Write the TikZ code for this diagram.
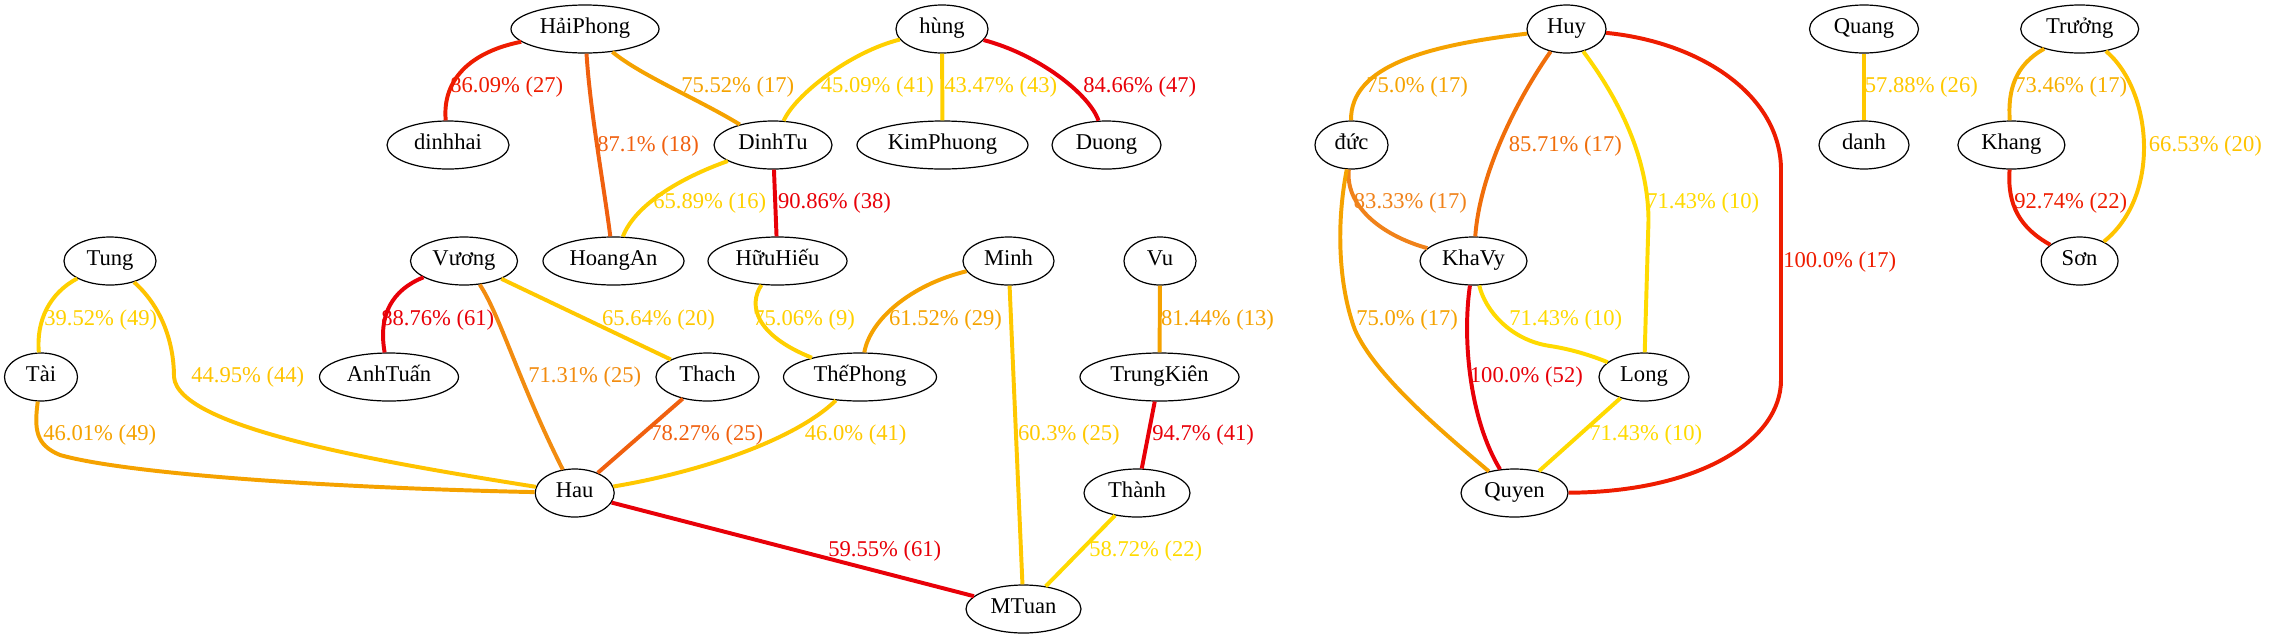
\documentclass[tikz,border=0pt]{standalone}
\usepackage{fontspec}
\setmainfont{Liberation Serif}
\usetikzlibrary{shapes.geometric}
\definecolor{cR}{HTML}{E80008}
\definecolor{cRo}{HTML}{EE1C00}
\definecolor{cOr}{HTML}{F0600F}
\definecolor{cOrB}{HTML}{F06E0A}
\definecolor{cOrC}{HTML}{F0821A}
\definecolor{cO}{HTML}{F28C10}
\definecolor{cG}{HTML}{F5A200}
\definecolor{cGB}{HTML}{F7B000}
\definecolor{cYA}{HTML}{FFC300}
\definecolor{cYB}{HTML}{FFC800}
\definecolor{cYC}{HTML}{FFD000}
\definecolor{cYD}{HTML}{FFDA00}
\tikzset{
  nd/.style={draw, ellipse, line width=0.75pt, inner sep=0pt,
    minimum height=48*0.62pt, minimum width=#1*0.62pt,
    text height=9.5pt, text depth=3.5pt,
    font=\fontsize{14pt}{16pt}\selectfont},
  ed/.style={line width=2.45pt, draw=#1},
  lb/.style={anchor=west, inner sep=0pt, text=#1,
    text height=9.5pt, text depth=3.5pt,
    font=\fontsize{14pt}{16pt}\selectfont}
}
\begin{document}
\begin{tikzpicture}[x=0.62pt, y=-0.62pt]
\useasboundingbox (0,0) rectangle (2271,639);
% rank 1
\node[nd=148] (HP) at (585,29) {HảiPhong};
\node[nd=92] (hung) at (942,29) {hùng};
\node[nd=79] (Huy) at (1566.5,29) {Huy};
\node[nd=109] (Quang) at (1864,29) {Quang};
\node[nd=118] (Truong) at (2079.7,29) {Trưởng};
% rank 2
\node[nd=122] (dinhhai) at (448,145) {dinhhai};
\node[nd=118] (DinhTu) at (773,145) {DinhTu};
\node[nd=171] (KimPhuong) at (942.5,145) {KimPhuong};
\node[nd=109] (Duong) at (1106.5,145) {Duong};
\node[nd=73] (duc) at (1351.5,145) {đức};
\node[nd=90] (danh) at (1864,145) {danh};
\node[nd=107] (Khang) at (2011.4,145) {Khang};
% rank 3
\node[nd=92] (Tung) at (110,261) {Tung};
\node[nd=107] (Vuong) at (464,261) {Vương};
\node[nd=141] (HoangAn) at (613.5,261) {HoangAn};
\node[nd=139] (HuuHieu) at (777.5,261) {HữuHiếu};
\node[nd=91] (Minh) at (1008.5,261) {Minh};
\node[nd=72] (Vu) at (1160,261) {Vu};
\node[nd=107] (KhaVy) at (1473.5,261) {KhaVy};
\node[nd=77] (Son) at (2079.6,261) {Sơn};
% rank 4
\node[nd=73] (Tai) at (41,377) {Tài};
\node[nd=139] (AnhTuan) at (389,377) {AnhTuấn};
\node[nd=103] (Thach) at (707.5,377) {Thach};
\node[nd=153] (ThePhong) at (860,377) {ThếPhong};
\node[nd=159] (TrungKien) at (1159.5,377) {TrungKiên};
\node[nd=90] (Long) at (1644,377) {Long};
% rank 5
\node[nd=79] (Hau) at (574.7,493) {Hau};
\node[nd=106] (Thanh) at (1137,493) {Thành};
\node[nd=107] (Quyen) at (1514.5,493) {Quyen};
% rank 6
\node[nd=115] (MTuan) at (1023.5,609) {MTuan};
% edges
\draw[ed=cRo] (HP) .. controls (470,52) and (442,80) .. (dinhhai);
\draw[ed=cOr] (HP) .. controls (590,110) and (603,180) .. (HoangAn);
\draw[ed=cG] (HP) .. controls (640,75) and (700,100) .. (DinhTu);
\draw[ed=cYC] (hung) .. controls (850,52) and (795,95) .. (DinhTu);
\draw[ed=cYC] (hung) -- (KimPhuong);
\draw[ed=cR] (hung) .. controls (1040,55) and (1090,95) .. (Duong);
\draw[ed=cYC] (DinhTu) .. controls (680,178) and (635,205) .. (HoangAn);
\draw[ed=cR] (DinhTu) -- (HuuHieu);
\draw[ed=cYC] (Tung) .. controls (50,293) and (36,320) .. (Tai);
\draw[ed=cYA] (Tung) .. controls (160,305) and (174,340) .. (174,377) .. controls (178,428) and (380,462) .. (Hau);
\draw[ed=cG] (Tai) .. controls (34,430) and (36,445) .. (60,455) .. controls (120,472) and (300,487) .. (Hau);
\draw[ed=cR] (Vuong) .. controls (392,290) and (378,315) .. (AnhTuan);
\draw[ed=cO] (Vuong) .. controls (500,315) and (520,385) .. (Hau);
\draw[ed=cYB] (Vuong) -- (Thach);
\draw[ed=cOr] (Thach) -- (Hau);
\draw[ed=cYC] (HuuHieu) .. controls (748,305) and (755,335) .. (ThePhong);
\draw[ed=cG] (Minh) .. controls (910,285) and (870,320) .. (ThePhong);
\draw[ed=cYB] (Minh) -- (MTuan);
\draw[ed=cYB] (ThePhong) .. controls (795,440) and (700,472) .. (Hau);
\draw[ed=cR] (Hau) -- (MTuan);
\draw[ed=cG] (Vu) -- (TrungKien);
\draw[ed=cR] (TrungKien) -- (Thanh);
\draw[ed=cYD] (Thanh) -- (MTuan);
\draw[ed=cG] (Huy) .. controls (1430,45) and (1350,65) .. (duc);
\draw[ed=cOrB] (Huy) .. controls (1520,95) and (1480,170) .. (KhaVy);
\draw[ed=cYD] (Huy) .. controls (1612,90) and (1648,150) .. (1648.5,220) -- (Long);
\draw[ed=cRo] (Huy) .. controls (1700,42) and (1781,95) .. (1781,170) -- (1781,380) .. controls (1781,440) and (1700,492) .. (Quyen);
\draw[ed=cOrC] (duc) .. controls (1345,205) and (1380,235) .. (KhaVy);
\draw[ed=cG] (duc) .. controls (1335,230) and (1340,290) .. (1355,330) .. controls (1375,375) and (1440,430) .. (Quyen);
\draw[ed=cR] (KhaVy) .. controls (1462,340) and (1470,420) .. (Quyen);
\draw[ed=cYD] (KhaVy) .. controls (1485,310) and (1510,340) .. (1550,346) .. controls (1570,349) and (1590,355) .. (Long);
\draw[ed=cYD] (Long) -- (Quyen);
\draw[ed=cYB] (Quang) -- (danh);
\draw[ed=cGB] (Truong) .. controls (2015,65) and (2007.7,90) .. (Khang);
\draw[ed=cRo] (Khang) .. controls (2007,205) and (2020,228) .. (Son);
\draw[ed=cYA] (Truong) .. controls (2152,90) and (2162,195) .. (Son);
% labels
\node[lb=cRo] (l1) at (450,88) {86.09\% (27)};
\node[lb=cOr] (l2) at (597,146.5) {87.1\% (18)};
\node[lb=cG] (l3) at (681,88) {75.52\% (17)};
\node[lb=cYC] (l4) at (820.6,88) {45.09\% (41)};
\node[lb=cYC] (l5) at (944,88) {43.47\% (43)};
\node[lb=cR] (l6) at (1083,88) {84.66\% (47)};
\node[lb=cYC] (l7) at (653,204) {65.89\% (16)};
\node[lb=cR] (l8) at (777.7,204) {90.86\% (38)};
\node[lb=cYC] (l9) at (44,320.5) {39.52\% (49)};
\node[lb=cYA] (l10) at (191,378) {44.95\% (44)};
\node[lb=cG] (l11) at (43,435.7) {46.01\% (49)};
\node[lb=cR] (l12) at (381,320.5) {88.76\% (61)};
\node[lb=cO] (l13) at (528,378) {71.31\% (25)};
\node[lb=cYB] (l14) at (601.7,320.5) {65.64\% (20)};
\node[lb=cOr] (l15) at (650,435.7) {78.27\% (25)};
\node[lb=cYC] (l16) at (753,320.5) {75.06\% (9)};
\node[lb=cG] (l17) at (888.7,320.5) {61.52\% (29)};
\node[lb=cYB] (l18) at (1017.7,435.7) {60.3\% (25)};
\node[lb=cYB] (l19) at (804.5,435.7) {46.0\% (41)};
\node[lb=cR] (l20) at (828,551.7) {59.55\% (61)};
\node[lb=cG] (l21) at (1160.7,320.5) {81.44\% (13)};
\node[lb=cR] (l22) at (1152,435.7) {94.7\% (41)};
\node[lb=cYD] (l23) at (1089,551.7) {58.72\% (22)};
\node[lb=cG] (l24) at (1366,88) {75.0\% (17)};
\node[lb=cOrB] (l25) at (1508.6,146.5) {85.71\% (17)};
\node[lb=cYD] (l26) at (1646,204) {71.43\% (10)};
\node[lb=cRo] (l27) at (1783,262.5) {100.0\% (17)};
\node[lb=cOrC] (l28) at (1353.6,204) {83.33\% (17)};
\node[lb=cG] (l29) at (1356,320.5) {75.0\% (17)};
\node[lb=cR] (l30) at (1469.6,378) {100.0\% (52)};
\node[lb=cYD] (l31) at (1509,320.5) {71.43\% (10)};
\node[lb=cYD] (l32) at (1589,435.7) {71.43\% (10)};
\node[lb=cYB] (l33) at (1864.6,88) {57.88\% (26)};
\node[lb=cGB] (l34) at (2014,88) {73.46\% (17)};
\node[lb=cYA] (l35) at (2148.6,146.5) {66.53\% (20)};
\node[lb=cRo] (l36) at (2014,204) {92.74\% (22)};
\end{tikzpicture}
\end{document}
